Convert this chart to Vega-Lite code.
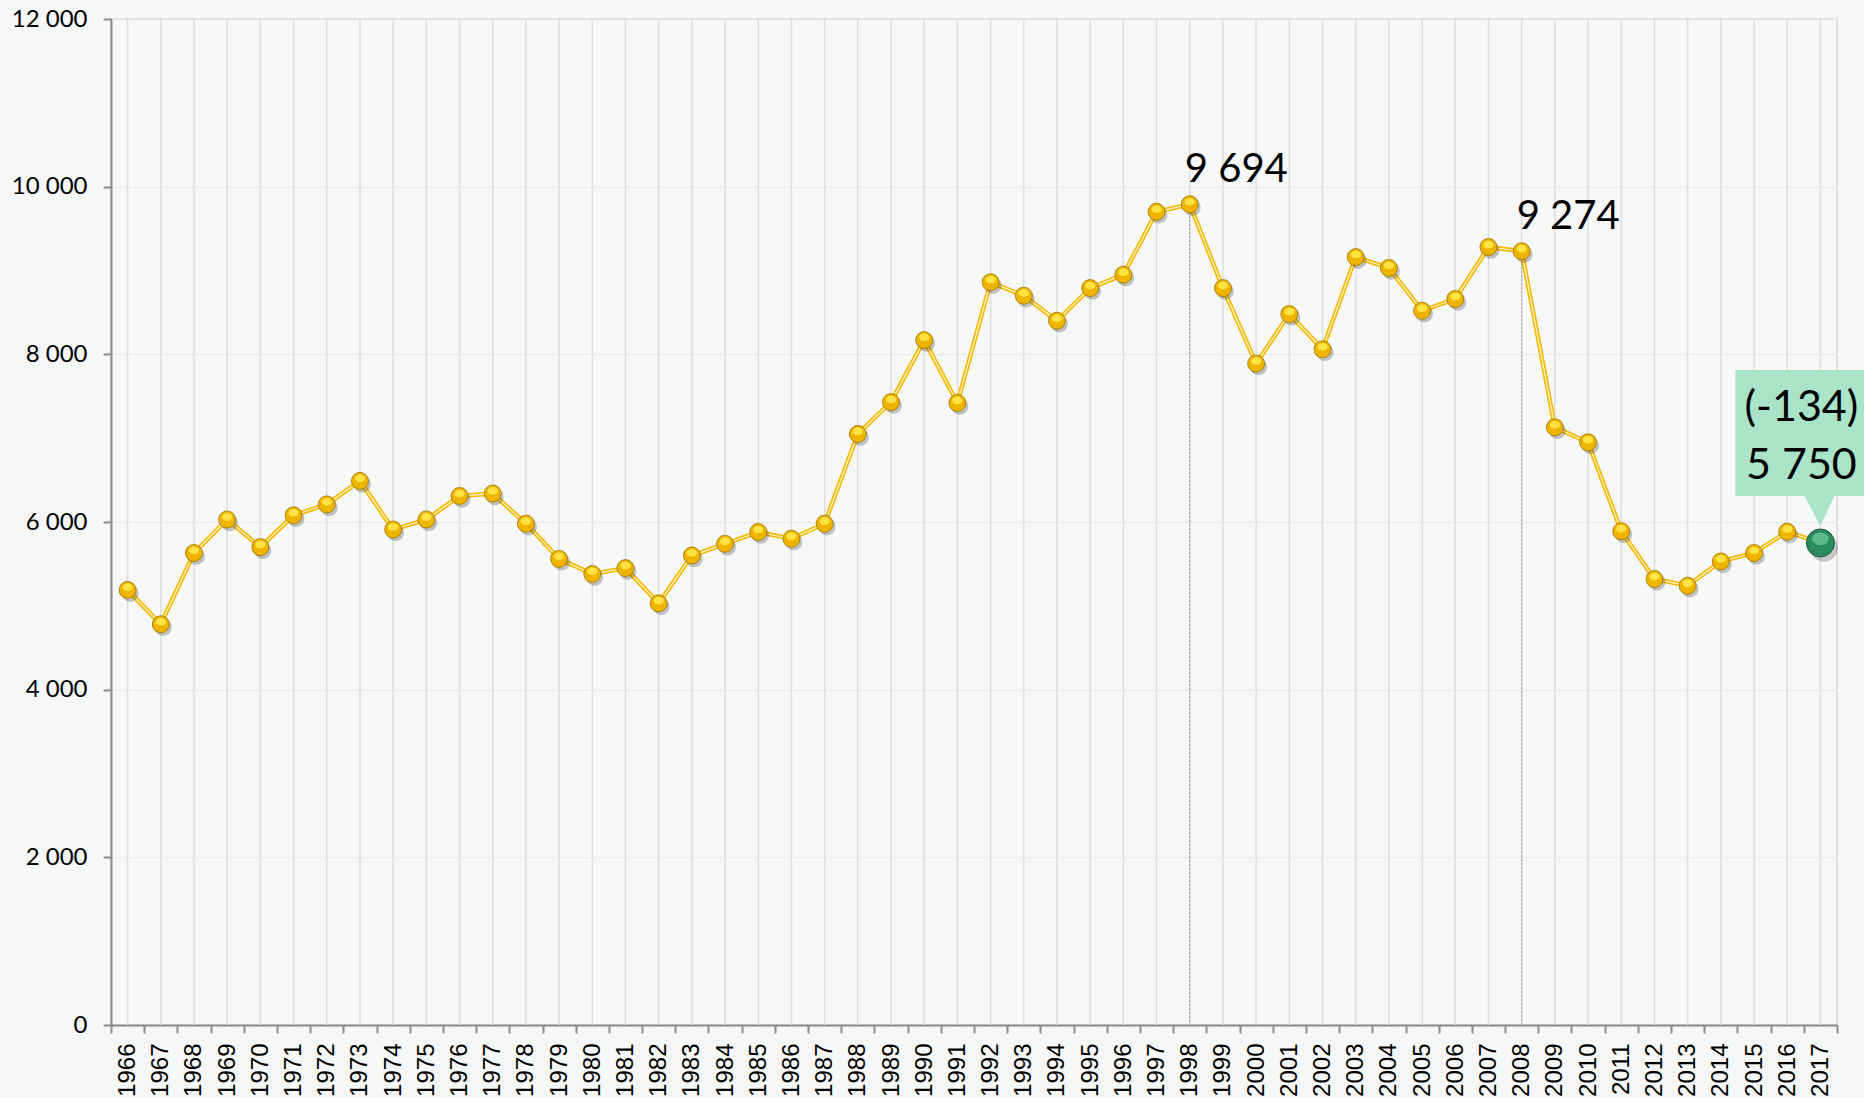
{
  "$schema": "https://vega.github.io/schema/vega-lite/v6.json",
  "width": 1726,
  "height": 1006,
  "autosize": {"type": "none"},
  "padding": {"left": 111, "top": 19, "right": 27, "bottom": 73},
  "background": "#f6f7f7",
  "config": {
    "view": {"fill": "#f7f8f8", "stroke": "#d6d6d6", "strokeWidth": 1.5},
    "axis": {"labelColor": "#000000", "domainColor": "#8c8c8c", "tickColor": "#8c8c8c", "domainWidth": 2, "tickWidth": 2, "tickSize": 8, "title": null}
  },
  "datasets": {
    "series": [
      {"year": "1966", "value": 5190}, {"year": "1967", "value": 4780}, {"year": "1968", "value": 5630},
      {"year": "1969", "value": 6030}, {"year": "1970", "value": 5700}, {"year": "1971", "value": 6080},
      {"year": "1972", "value": 6210}, {"year": "1973", "value": 6490}, {"year": "1974", "value": 5910},
      {"year": "1975", "value": 6030}, {"year": "1976", "value": 6310}, {"year": "1977", "value": 6340},
      {"year": "1978", "value": 5980}, {"year": "1979", "value": 5560}, {"year": "1980", "value": 5380},
      {"year": "1981", "value": 5450}, {"year": "1982", "value": 5030}, {"year": "1983", "value": 5600},
      {"year": "1984", "value": 5740}, {"year": "1985", "value": 5880}, {"year": "1986", "value": 5800},
      {"year": "1987", "value": 5980}, {"year": "1988", "value": 7050}, {"year": "1989", "value": 7430},
      {"year": "1990", "value": 8170}, {"year": "1991", "value": 7420}, {"year": "1992", "value": 8860},
      {"year": "1993", "value": 8700}, {"year": "1994", "value": 8400}, {"year": "1995", "value": 8790},
      {"year": "1996", "value": 8950}, {"year": "1997", "value": 9700}, {"year": "1998", "value": 9790},
      {"year": "1999", "value": 8790}, {"year": "2000", "value": 7890}, {"year": "2001", "value": 8480},
      {"year": "2002", "value": 8060}, {"year": "2003", "value": 9160}, {"year": "2004", "value": 9030},
      {"year": "2005", "value": 8520}, {"year": "2006", "value": 8660}, {"year": "2007", "value": 9280},
      {"year": "2008", "value": 9230}, {"year": "2009", "value": 7130}, {"year": "2010", "value": 6950},
      {"year": "2011", "value": 5890}, {"year": "2012", "value": 5320}, {"year": "2013", "value": 5240},
      {"year": "2014", "value": 5530}, {"year": "2015", "value": 5630}, {"year": "2016", "value": 5884},
      {"year": "2017", "value": 5750}
    ],
    "peaks": [
      {"year": "1998", "value": 9790, "label": "9 694"},
      {"year": "2008", "value": 9230, "label": "9 274"}
    ],
    "callout": [
      {"year": "2017", "value": 5750, "change": "(-134)", "label": "5 750"}
    ]
  },
  "encoding": {
    "x": {
      "field": "year", "type": "ordinal",
      "scale": {"paddingInner": 0, "paddingOuter": 0},
      "axis": {"tickBand": "extent", "labelAngle": -90, "labelPadding": 10, "labelFont": "Liberation Sans", "labelFontSize": 24, "labelOverlap": false, "labelBound": false, "labelFlush": false, "grid": false}
    },
    "y": {
      "field": "value", "type": "quantitative",
      "scale": {"domain": [0, 12000], "nice": false},
      "axis": {"values": [0, 2000, 4000, 6000, 8000, 10000, 12000], "labelExpr": "replace(format(datum.value, ',d'), ',', ' ')", "labelFont": "Lato", "labelFontSize": 24, "labelPadding": 16, "grid": true, "gridColor": "#ebebeb", "gridWidth": 1.5}
    }
  },
  "layer": [
    {"data": {"name": "series"}, "mark": {"type": "rule", "color": "#dedede", "strokeWidth": 1.5}, "encoding": {"y": null}},
    {"data": {"name": "peaks"}, "mark": {"type": "rule", "color": "#9a9a9a", "strokeWidth": 1.2, "strokeDash": [2, 2]}, "encoding": {"y2": {"datum": 0}}},
    {"data": {"name": "series"}, "mark": {"type": "line", "color": "#f5b800", "strokeWidth": 4.5}},
    {"data": {"name": "series"}, "mark": {"type": "line", "color": "#fff6c8", "strokeWidth": 1.3}},
    {"data": {"name": "series"}, "mark": {"type": "point", "filled": true, "size": 289, "shape": "M -0.72 0.38 A 1 1 0 1 0 1.28 0.38 A 1 1 0 1 0 -0.72 0.38 Z", "color": "#000000", "opacity": 0.22}},
    {"data": {"name": "series"}, "mark": {"type": "point", "filled": true, "size": 289, "shape": "circle", "fill": "#eeb400", "stroke": "#9c7400", "strokeWidth": 0.8, "opacity": 1}},
    {"data": {"name": "series"}, "mark": {"type": "point", "filled": true, "size": 289, "shape": "M -0.6 -0.3 A 0.6 0.45 0 1 1 0.6 -0.3 A 0.6 0.45 0 1 1 -0.6 -0.3 Z", "fill": "#ffe84a", "opacity": 0.9}},
    {"data": {"name": "callout"}, "mark": {"type": "point", "filled": true, "size": 122500, "shape": "M -0.486 -0.989 L 0.251 -0.989 L 0.251 -0.269 L 0.08 -0.269 L 0 -0.097 L -0.091 -0.269 L -0.486 -0.269 Z", "fill": "#aae4c8", "opacity": 1}},
    {"data": {"name": "callout"}, "mark": {"type": "point", "filled": true, "size": 784, "shape": "M -0.75 0.35 A 1 1 0 1 0 1.25 0.35 A 1 1 0 1 0 -0.75 0.35 Z", "color": "#000000", "opacity": 0.2}},
    {"data": {"name": "callout"}, "mark": {"type": "point", "filled": true, "size": 784, "shape": "circle", "fill": "#2b8a5e", "stroke": "#1a5c3d", "strokeWidth": 1, "opacity": 1}},
    {"data": {"name": "callout"}, "mark": {"type": "point", "filled": true, "size": 784, "shape": "M -0.6 -0.3 A 0.6 0.45 0 1 1 0.6 -0.3 A 0.6 0.45 0 1 1 -0.6 -0.3 Z", "fill": "#6fc99b", "opacity": 0.75}},
    {"data": {"name": "callout"}, "mark": {"type": "text", "font": "Lato", "fontSize": 43, "color": "#000000", "align": "center", "baseline": "alphabetic", "dx": -19, "dy": -122}, "encoding": {"text": {"field": "change"}}},
    {"data": {"name": "callout"}, "mark": {"type": "text", "font": "Lato", "fontSize": 43, "color": "#000000", "align": "center", "baseline": "alphabetic", "dx": -19, "dy": -64}, "encoding": {"text": {"field": "label"}}},
    {"data": {"name": "peaks"}, "mark": {"type": "text", "font": "Lato", "fontSize": 40, "color": "#000000", "align": "left", "baseline": "alphabetic", "dx": -5, "dy": -22}, "encoding": {"text": {"field": "label"}}}
  ]
}
